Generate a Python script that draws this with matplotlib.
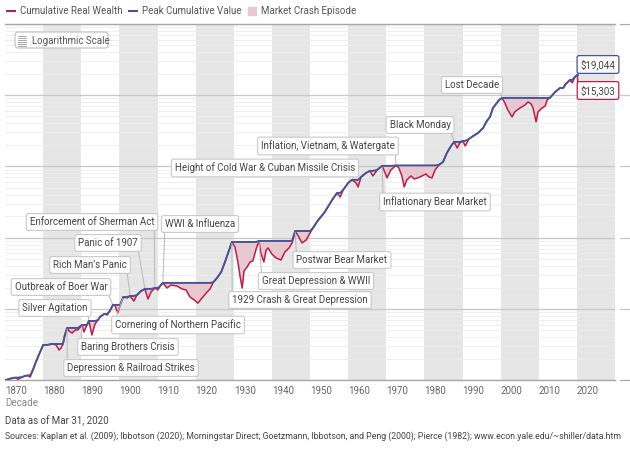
import numpy as np
import matplotlib
matplotlib.use('Agg')
import matplotlib.pyplot as plt
import matplotlib.patches as mpatches
from matplotlib.lines import Line2D
from matplotlib.transforms import IdentityTransform
from matplotlib.ticker import LogLocator, NullFormatter

plt.rcParams['font.family'] = ['Roboto', 'DejaVu Sans']

# cumulative real wealth of $1 invested in 1870
years = [1870.0, 1871.0, 1872.1, 1872.9, 1873.4, 1874.5, 1875.2, 1876.0, 1876.6, 1877.3,
         1878.1, 1879.2, 1880.0, 1881.0, 1882.3, 1883.4, 1884.2, 1884.7, 1885.2, 1885.7,
         1886.3, 1886.8, 1887.6, 1888.4, 1889.1, 1890.2, 1890.7, 1891.5, 1892.0, 1892.8,
         1893.6, 1894.4, 1894.9, 1896.0, 1896.8, 1897.5, 1898.3, 1898.9, 1899.6, 1900.2,
         1901.0, 1902.0, 1902.8, 1903.8, 1904.6, 1905.7, 1906.7, 1907.5, 1908.3, 1909.3,
         1910.1, 1910.7, 1911.4, 1912.5, 1913.5, 1915.1, 1916.4, 1917.5, 1918.5, 1919.6,
         1920.6, 1921.7, 1923.0, 1923.8, 1924.6, 1925.6, 1926.7, 1927.7, 1928.8, 1929.5,
         1930.3, 1931.1, 1931.6, 1932.2, 1932.7, 1933.5, 1934.3, 1935.0, 1935.8, 1936.6,
         1937.1, 1937.9, 1938.5, 1939.0, 1940.0, 1941.1, 1942.4, 1943.4, 1944.5, 1945.3,
         1946.1, 1946.9, 1947.9, 1949.0, 1950.0, 1950.8, 1951.8, 1952.6, 1953.7, 1954.7,
         1955.8, 1957.1, 1957.9, 1958.7, 1960.0, 1961.0, 1962.1, 1962.6, 1963.4, 1964.7,
         1965.7, 1966.5, 1967.6, 1968.9, 1969.7, 1970.2, 1971.2, 1972.6, 1973.3, 1974.1,
         1974.7, 1975.4, 1976.5, 1977.3, 1978.3, 1979.4, 1980.4, 1981.2, 1982.0, 1982.8,
         1983.8, 1984.9, 1985.9, 1987.0, 1987.8, 1988.6, 1989.3, 1990.1, 1990.7, 1991.7,
         1992.8, 1994.1, 1995.4, 1996.4, 1997.2, 1998.0, 1998.8, 1999.6, 2000.4, 2001.1,
         2001.9, 2003.0, 2003.7, 2005.1, 2006.4, 2007.2, 2008.0, 2008.5, 2009.3, 2009.8,
         2010.9, 2011.7, 2012.2, 2013.0, 2014.3, 2015.6, 2016.4, 2017.1, 2018.2, 2018.8,
         2019.5, 2020.1, 2020.25]
wealth = [1.00, 1.04, 1.08, 1.09, 1.03, 1.11, 1.15, 1.17, 1.11, 1.39,
          1.81, 2.49, 3.13, 3.13, 3.23, 3.13, 2.66, 2.84, 3.23, 4.32,
          5.42, 4.91, 4.60, 5.07, 5.07, 5.97, 4.76, 5.97, 6.79, 4.32,
          6.16, 7.01, 7.73, 8.51, 8.24, 9.38, 11.4, 11.0, 8.79, 11.4,
          14.7, 14.3, 15.2, 12.9, 15.7, 17.9, 19.1, 13.8, 17.3, 19.7,
          18.5, 21.0, 23.2, 19.7, 21.7, 21.0, 19.1, 18.5, 14.7, 13.4,
          12.1, 14.3, 17.3, 19.1, 23.6, 27.2, 33.0, 45.6, 67.2, 87.0,
          74.1, 45.6, 30.0, 19.7, 34.1, 38.8, 45.6, 47.1, 67.2, 89.9,
          60.9, 45.6, 67.2, 71.8, 59.0, 51.9, 48.6, 62.9, 71.8, 84.3,
          124, 106, 84.3, 92.9, 116, 137, 166, 189, 222, 270,
          338, 424, 372, 467, 585, 645, 585, 514, 710, 809,
          863, 734, 891, 1014, 809, 688, 891, 1030, 951, 734,
          514, 645, 734, 666, 688, 734, 782, 710, 688, 891,
          1047, 1153, 1542, 1934, 2198, 1811, 2128, 2270, 1934, 2421,
          2667, 2939, 3451, 4333, 4932, 6595, 7499, 8531, 9099, 7745,
          6180, 4932, 5795, 6595, 7262, 8000, 7499, 6595, 4197, 5795,
          6595, 7035, 8531, 9200, 11046, 12560, 12560, 14310, 16290, 14790,
          17950, 19044, 15303]

# crash episodes: name and year of the peak where each one starts
crash_names = ['Depression & Railroad Strikes', 'Baring Brothers Crisis', 'Silver Agitation',
               'Outbreak of Boer War', 'Cornering of Northern Pacific', 'Rich Man\u2019s Panic',
               'Panic of 1907', 'Enforcement of Sherman Act', 'WWI & Influenza',
               '1929 Crash & Great Depression', 'Great Depression & WWII', 'Postwar Bear Market',
               'Height of Cold War & Cuban Missile Crisis', 'Inflationary Bear Market',
               'Inflation, Vietnam, & Watergate', 'Black Monday', 'Lost Decade']
crash_start = [1886.3, 1890.2, 1892.0, 1898.3, 1901.0, 1902.8, 1906.7, 1909.3, 1911.4,
               1929.5, 1936.6, 1946.1, 1961.0, 1968.9, 1972.6, 1987.8, 2000.4]

end_labels = ['$19,044', '$15,303']

# label box centres (image pixels) and leader start corner
label_pos = [(131, 368), (128, 347), (55, 308), (61, 287), (178, 325), (90, 265),
             (108, 243), (92, 222), (200, 224), (300, 300), (316, 281), (342, 260),
             (265, 168), (435, 202), (328, 146), (420, 125), (472, 85)]
label_rel = [(0, 1), (0, 1), (1, 0), (1, 0), (0, 1), (1, 0), (1, 0), (1, 0), (0, 0),
             (0, 1), (0, 1), (0, 1), (1, 0), (0, 1), (1, 0), (1, 0), (1, 0)]

RED = '#b8204a'
NAVY = '#4a5394'
PINK = '#e8c8d0'
FS = 7
W, H = 630, 449

yrs = np.array(years)
val = np.array(wealth)
peak = np.maximum.accumulate(val)

fig = plt.figure(figsize=(W / 100, H / 100), dpi=100)
ax = fig.add_axes([5 / W, 1 - 380.3 / H, 610 / W, (380.3 - 23.7) / H])
ax.set_yscale('log')
ax.set_ylim(1, 1e5)
ax.set_xlim(1870, 2030)

for d in range(1880, 2030, 20):
    ax.axvspan(d, d + 10, color='#e6e6e6', lw=0, zorder=0)

ax.yaxis.set_major_locator(LogLocator(base=10))
ax.yaxis.set_minor_locator(LogLocator(base=10, subs=range(2, 10)))
ax.yaxis.set_minor_formatter(NullFormatter())
ax.grid(axis='y', which='major', color='#c8c8c8', lw=0.9)
ax.grid(axis='y', which='minor', color='#ededed', lw=0.6)
ax.set_axisbelow(True)
ax.tick_params(axis='y', which='both', left=False, labelleft=False)
for s in ['left', 'right']:
    ax.spines[s].set_visible(False)
for s in ['top', 'bottom']:
    ax.spines[s].set_color('#a8a8a8')
    ax.spines[s].set_linewidth(1.0)

decades = list(range(1870, 2030, 10))
ax.set_xticks(decades)
ax.set_xticklabels([str(d) for d in decades], ha='left')
ax.tick_params(axis='x', length=0, pad=4, labelsize=FS, labelcolor='#666666')

# crash episode shading, from each start peak until it is regained
for s in crash_start:
    i = years.index(s)
    j = i + 1
    while j < len(val) - 1 and val[j] < val[i]:
        j += 1
    m = (yrs >= yrs[i]) & (yrs <= yrs[j])
    ax.fill_between(yrs, val, peak, where=m, color=PINK, lw=0, zorder=2)

ax.plot(yrs, val, color=RED, lw=1.1, zorder=3)
ax.plot(yrs, peak, color=NAVY, lw=1.4, zorder=4)

box = dict(boxstyle='round,pad=0.35,rounding_size=0.2', fc='white', ec='#c9c9c9', lw=0.8)
for name, s, (cx, cy), rp in zip(crash_names, crash_start, label_pos, label_rel):
    i = years.index(s)
    ax.annotate(name, xy=(s, peak[i]), xytext=(cx, H - cy), textcoords='figure pixels',
                ha='center', va='center', fontsize=FS, color='#444444', bbox=box, zorder=6,
                arrowprops=dict(arrowstyle='-', color='#b8b8b8', lw=0.7, relpos=rp,
                                shrinkA=0, shrinkB=1))

ax.annotate(end_labels[0], xy=(yrs[-2], peak[-2]), xytext=(598, H - 64.5),
            textcoords='figure pixels', ha='center', va='center', fontsize=FS, color='#444444',
            bbox=dict(boxstyle='round,pad=0.35,rounding_size=0.2', fc='white', ec=NAVY, lw=0.9),
            arrowprops=dict(arrowstyle='-', color=NAVY, lw=0.8, relpos=(0, 0), shrinkA=0, shrinkB=0),
            zorder=7, annotation_clip=False)
ax.annotate(end_labels[1], xy=(yrs[-1], val[-1]), xytext=(598, H - 90.5),
            textcoords='figure pixels', ha='center', va='center', fontsize=FS, color='#444444',
            bbox=dict(boxstyle='round,pad=0.35,rounding_size=0.2', fc='white', ec=RED, lw=0.9),
            arrowprops=dict(arrowstyle='-', color=RED, lw=0.8, relpos=(0, 1), shrinkA=0, shrinkB=0),
            zorder=7, annotation_clip=False)

# stub of the neighbouring panel at the right edge
ax2 = fig.add_axes([620 / W, 1 - 380.3 / H, 30 / W, (380.3 - 23.7) / H])
ax2.set_yscale('log')
ax2.set_ylim(1, 1e5)
ax2.yaxis.set_major_locator(LogLocator(base=10))
ax2.grid(axis='y', which='major', color='#c8c8c8', lw=0.9)
ax2.tick_params(which='both', left=False, bottom=False, labelleft=False, labelbottom=False)
for s in ['left', 'right']:
    ax2.spines[s].set_visible(False)
for s in ['top', 'bottom']:
    ax2.spines[s].set_color('#a8a8a8')

pix = IdentityTransform()

# legend
fig.add_artist(Line2D([7, 15], [H - 11, H - 11], color=RED, lw=1.5, transform=pix))
fig.text(20 / W, 1 - 11 / H, 'Cumulative Real Wealth', fontsize=FS, color='#555555', va='center')
fig.add_artist(Line2D([129, 137], [H - 11, H - 11], color=NAVY, lw=1.5, transform=pix))
fig.text(142 / W, 1 - 11 / H, 'Peak Cumulative Value', fontsize=FS, color='#555555', va='center')
fig.add_artist(mpatches.Rectangle((248, H - 15), 8, 8, color=PINK, transform=pix))
fig.text(261 / W, 1 - 11 / H, 'Market Crash Episode', fontsize=FS, color='#555555', va='center')

# "Logarithmic Scale" button
fig.add_artist(mpatches.FancyBboxPatch((15, H - 48), 93, 16, boxstyle='round,pad=0,rounding_size=3',
                                       fc='white', ec='#bdbdbd', lw=0.8, transform=pix))
for yy in [35.5, 37.5, 39.5, 41.5, 43.5, 45.5]:
    fig.add_artist(Line2D([18, 26], [H - yy, H - yy], color='#9a9a9a', lw=0.6, transform=pix))
fig.text(32 / W, 1 - 40.5 / H, 'Logarithmic Scale', fontsize=FS, color='#555555', va='center')

fig.text(5 / W, 1 - 403 / H, 'Decade', fontsize=FS, color='#888888', va='center')
fig.text(5 / W, 1 - 421 / H, 'Data as of Mar 31, 2020', fontsize=FS, color='#444444', va='center')
fig.text(5 / W, 1 - 436 / H,
         'Sources: Kaplan et al. (2009); Ibbotson (2020); Morningstar Direct; Goetzmann, Ibbotson, '
         'and Peng (2000); Pierce (1982); www.econ.yale.edu/~shiller/data.htm',
         fontsize=6.3, color='#444444', va='center')

fig.savefig('out.png', dpi=100)
